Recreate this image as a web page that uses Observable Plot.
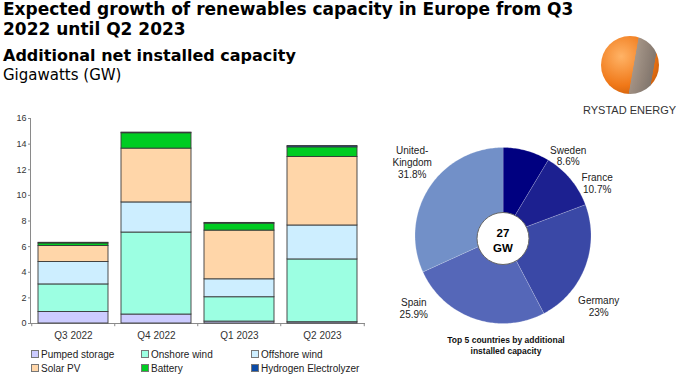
<!DOCTYPE html>
<html><head><meta charset="utf-8">
<script src="https://cdn.jsdelivr.net/npm/d3@7"></script>
<script src="https://cdn.jsdelivr.net/npm/@observablehq/plot@0.6"></script>
<style>
body{margin:0;width:680px;height:377px;position:relative;overflow:hidden;background:#fff;font-family:"Liberation Sans",Arial,sans-serif;}
#title{position:absolute;left:3px;top:0;font:bold 17px/19.5px "DejaVu Sans";color:#000;white-space:nowrap}
#sub1{position:absolute;left:3px;top:47.2px;font:bold 16px/18.6px "DejaVu Sans";color:#000;white-space:nowrap}
#sub2{position:absolute;left:3px;top:66.6px;font:15px/17.5px "DejaVu Sans";color:#000;white-space:nowrap}
#bars{position:absolute;left:0;top:105px}
#bars svg [stroke="currentColor"]{stroke:#8a8a8a}
#legend{position:absolute;left:31px;top:348px;display:grid;grid-template-columns:110px 110px 130px;font-size:10px;line-height:14px;color:#222}
#legend span.sw{display:inline-block;width:6px;height:6px;border:1px solid #777;margin-right:2px;vertical-align:0px}
#pie{position:absolute;left:380px;top:130px}
#caption{position:absolute;left:406px;top:335px;width:200px;text-align:center;font:bold 8.5px/11px "Liberation Sans",Arial;color:#111}
#globe{position:absolute;left:601px;top:36px;width:58px;height:58px;border-radius:50%;
 background:linear-gradient(100deg,rgba(0,0,0,0) 55%,rgba(150,150,150,0.85) 56%,rgba(120,120,120,0.9) 85%,rgba(0,0,0,0) 86%),radial-gradient(circle at 35% 35%,#ffb366,#f07818 55%,#b04a00 100%)}
#brand{position:absolute;left:583px;top:104px;font:11px "Liberation Sans",Arial;color:#333;white-space:nowrap}
</style></head>
<body>
<div id="title">Expected growth of renewables capacity in Europe from Q3<br>2022 until Q2 2023</div>
<div id="sub1">Additional net installed capacity</div>
<div id="sub2">Gigawatts (GW)</div>
<div id="bars"></div>
<div id="legend"></div>
<div id="pie"></div>
<div id="caption">Top 5 countries by additional<br>installed capacity</div>
<div id="globe"></div>
<div id="brand">RYSTAD ENERGY</div>
<script>
// ---- Bar chart data ----
const quarters = ["Q3 2022", "Q4 2022", "Q1 2023", "Q2 2023"];
const techs = ["Pumped storage", "Onshore wind", "Offshore wind", "Solar PV", "Battery", "Hydrogen Electrolyzer"];
const pumped   = [0.9, 0.7, 0.15, 0.1];
const onshore  = [2.15, 6.4, 1.9, 4.9];
const offshore = [1.75, 2.35, 1.4, 2.65];
const solar    = [1.25, 4.2, 3.8, 5.35];
const battery  = [0.2, 1.2, 0.55, 0.75];
const hydrogen = [0.05, 0.05, 0.05, 0.1];
const yTicks = [0, 2, 4, 6, 8, 10, 12, 14, 16];

// ---- Pie data ----
const countries = ["Sweden", "France", "Germany", "Spain", "United-Kingdom"];
const shares = [8.6, 10.7, 23, 25.9, 31.8];
const totalGW = 27;

// ---- styles ----
const techColors = ["#ccccff", "#9cffe2", "#cdeeff", "#ffd6a9", "#00cc22", "#0a4aa6"];
const pieColors = ["#000080", "#1c2090", "#3a48a6", "#5567b8", "#7290c8"];

const series = [pumped, onshore, offshore, solar, battery, hydrogen];
const barData = techs.flatMap((t, i) => quarters.map((q, j) => ({quarter: q, tech: t, value: series[i][j]})));

const W = 370, ML = 30, MR = 6;
const step = (W - ML - MR) / quarters.length;

const bars = Plot.plot({
  width: W, height: 240, marginLeft: ML, marginRight: MR, marginTop: 13, marginBottom: 22,
  style: {fontFamily: "Liberation Sans, Arial", fontSize: "9px", color: "#333", background: "transparent", overflow: "visible"},
  x: {domain: quarters, paddingInner: 0.16, paddingOuter: 0.08, label: null, tickSize: 0, tickPadding: 8, line: true},
  y: {domain: [0, 16], ticks: yTicks, tickSize: 2, tickPadding: 2, label: null, line: true},
  color: {domain: techs, range: techColors},
  marks: [
    Plot.barY(barData, {x: "quarter", y: "value", fill: "tech", stroke: "#3a3a3a", strokeWidth: 0.9}),
    Plot.ruleX(quarters, {x: d => d, dx: -step / 2, y1: 0, y2: -0.25, stroke: "#8a8a8a"}),
    Plot.ruleX(quarters.slice(-1), {x: d => d, dx: step / 2, y1: 0, y2: -0.25, stroke: "#8a8a8a"})
  ]
});
document.getElementById("bars").appendChild(bars);
d3.select(bars).selectAll('g[aria-label="x-axis"] text, g[aria-label="x-axis tick label"] text').style("font-size", "10px");

// legend from the color scale
const cs = bars.scale("color");
const leg = document.getElementById("legend");
cs.domain.forEach((t, i) => {
  const d = document.createElement("div");
  d.innerHTML = `<span class="sw" style="background:${cs.range[i]}"></span>${t}`;
  leg.appendChild(d);
});

// ---- Pie ----
let acc = 0;
const slices = countries.map((c, i) => {
  const a0 = acc / 100 * 2 * Math.PI; acc += shares[i];
  const a1 = acc / 100 * 2 * Math.PI;
  return {country: c, share: shares[i], a0, a1, mid: (a0 + a1) / 2};
});
const slicePts = slices.flatMap(s => {
  const n = Math.max(2, Math.ceil((s.a1 - s.a0) * 180 / Math.PI));
  const pts = [{country: s.country, x: 0, y: 0}];
  for (let k = 0; k <= n; k++) {
    const a = s.a0 + (s.a1 - s.a0) * k / n;
    pts.push({country: s.country, x: Math.sin(a), y: Math.cos(a)});
  }
  return pts;
});
const R_PX = 88;
// label nudges (px) away from the mid-angle position, mimicking the original's label placement
const labelNudge = {"Sweden": [37, 22], "France": [13, 15], "Germany": [-3, 33], "Spain": [-55, -27], "United-Kingdom": [-2, -16]};
const lx = s => (Math.sin(s.mid) * 1.2 * R_PX + labelNudge[s.country][0]) / R_PX;
const ly = s => (Math.cos(s.mid) * 1.2 * R_PX - labelNudge[s.country][1]) / R_PX;

const pie = Plot.plot({
  width: 300, height: 230, marginLeft: 34.5, marginRight: 89.5, marginTop: 17, marginBottom: 37,
  style: {fontFamily: "Liberation Sans, Arial", background: "transparent", overflow: "visible"},
  x: {domain: [-1, 1], axis: null},
  y: {domain: [-1, 1], axis: null},
  color: {domain: countries, range: pieColors},
  marks: [
    Plot.line(slicePts, {x: "x", y: "y", z: "country", fill: "country", stroke: "#ffffff", strokeWidth: 0.6, strokeOpacity: 0.35, curve: "linear-closed"}),
    Plot.dot([{x: 0, y: 0}], {x: "x", y: "y", dy: 3, r: 26, fill: "white", stroke: "#666", strokeWidth: 1}),
    Plot.text([{x: 0, y: 0}], {x: "x", y: "y", dy: 4, text: () => `${totalGW}\nGW`, fontSize: 11.5, fontWeight: "bold", lineHeight: 1.3, fill: "#000"}),
    Plot.text(slices, {x: lx, y: ly, text: s => `${s.country.replace("-", "-\n")}\n${s.share}%`, fontSize: 10, lineHeight: 1.18, fill: "#222"})
  ]
});
document.getElementById("pie").appendChild(pie);
</script>
</body></html>
